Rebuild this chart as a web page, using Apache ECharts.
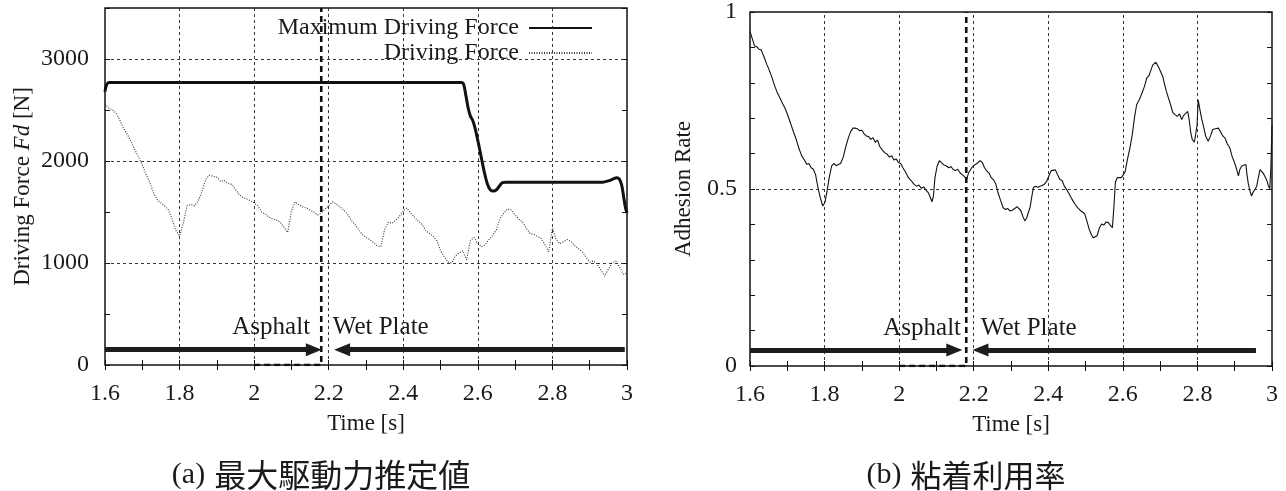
<!DOCTYPE html>
<html>
<head>
<meta charset="utf-8">
<script src="https://cdn.jsdelivr.net/npm/echarts@6/dist/echarts.min.js"></script>
<style>
  html, body { margin: 0; padding: 0; background: #fff; }
  #chart { width: 1286px; height: 491px; }
</style>
</head>
<body>
<div id="chart"></div>
<script>
// ---- tick labels ----
const timeTickLabels = ['1.6', '1.8', '2', '2.2', '2.4', '2.6', '2.8', '3'];
const forceTickLabels = ['0', '1000', '2000', '3000'];
const adhesionTickLabels = ['0', '0.5', '1'];

// ---- road surface change (Asphalt -> Wet Plate) ----
const surfaceChangeTime = 2.18;
const boundaryStartTime = 2.0;

// ---- (a) maximum driving force estimate [N] ----
const maxForceTime = [1.600, 1.603, 1.607, 1.612, 2.556, 2.562, 2.568, 2.574, 2.580, 2.586, 2.592, 2.600, 2.610, 2.618, 2.626, 2.634, 2.642, 2.650, 2.658, 2.666, 2.675, 2.935, 2.950, 2.962, 2.972, 2.980, 2.986, 2.991, 2.996, 3.000];
const maxForceValue = [2680, 2735, 2762, 2770, 2770, 2750, 2640, 2520, 2440, 2400, 2330, 2200, 2020, 1880, 1770, 1715, 1705, 1718, 1755, 1788, 1792, 1792, 1805, 1822, 1835, 1820, 1760, 1650, 1540, 1490];

// ---- (a) driving force [N] ----
const forceTime = [1.60, 1.61, 1.62, 1.63, 1.64, 1.65, 1.66, 1.67, 1.68, 1.69, 1.70, 1.71, 1.72, 1.73, 1.74, 1.75, 1.76, 1.77, 1.78, 1.79, 1.80, 1.81, 1.82, 1.83, 1.84, 1.85, 1.86, 1.87, 1.88, 1.89, 1.90, 1.91, 1.92, 1.93, 1.94, 1.95, 1.96, 1.97, 1.98, 1.99, 2.00, 2.01, 2.02, 2.03, 2.04, 2.05, 2.06, 2.07, 2.08, 2.09, 2.10, 2.11, 2.12, 2.13, 2.14, 2.15, 2.16, 2.17, 2.18, 2.19, 2.20, 2.21, 2.22, 2.23, 2.24, 2.25, 2.26, 2.27, 2.28, 2.29, 2.30, 2.31, 2.32, 2.33, 2.34, 2.35, 2.36, 2.37, 2.38, 2.39, 2.40, 2.41, 2.42, 2.43, 2.44, 2.45, 2.46, 2.47, 2.48, 2.49, 2.50, 2.51, 2.52, 2.53, 2.54, 2.55, 2.56, 2.57, 2.58, 2.59, 2.60, 2.61, 2.62, 2.63, 2.64, 2.65, 2.66, 2.67, 2.68, 2.69, 2.70, 2.71, 2.72, 2.73, 2.74, 2.75, 2.76, 2.77, 2.78, 2.79, 2.80, 2.81, 2.82, 2.83, 2.84, 2.85, 2.86, 2.87, 2.88, 2.89, 2.90, 2.91, 2.92, 2.93, 2.94, 2.95, 2.96, 2.97, 2.98, 2.99, 3.00];
const forceValue = [2560, 2520, 2500, 2470, 2400, 2320, 2260, 2190, 2110, 2040, 1960, 1870, 1790, 1690, 1620, 1590, 1560, 1520, 1430, 1320, 1265, 1390, 1560, 1575, 1560, 1610, 1700, 1820, 1860, 1850, 1840, 1800, 1810, 1780, 1770, 1720, 1670, 1640, 1630, 1610, 1590, 1560, 1500, 1480, 1450, 1430, 1420, 1400, 1350, 1300, 1510, 1600, 1570, 1550, 1540, 1520, 1500, 1470, 1490, 1530, 1560, 1600, 1580, 1550, 1520, 1480, 1420, 1380, 1330, 1280, 1250, 1230, 1200, 1170, 1160, 1330, 1400, 1390, 1420, 1460, 1510, 1540, 1490, 1450, 1410, 1380, 1320, 1290, 1260, 1220, 1120, 1060, 1010, 1000, 1070, 1100, 1120, 1030, 1220, 1250, 1190, 1160, 1180, 1230, 1270, 1330, 1440, 1490, 1530, 1520, 1470, 1430, 1400, 1340, 1290, 1280, 1260, 1240, 1180, 1110, 1340, 1230, 1190, 1210, 1230, 1210, 1170, 1140, 1110, 1060, 1010, 1020, 990, 930, 870, 940, 1000, 1020, 960, 890, 900];

// ---- (b) adhesion rate ----
const adhesionTime = [1.600, 1.606, 1.612, 1.618, 1.624, 1.630, 1.638, 1.645, 1.650, 1.658, 1.665, 1.672, 1.680, 1.688, 1.694, 1.700, 1.708, 1.716, 1.724, 1.731, 1.739, 1.746, 1.752, 1.758, 1.764, 1.770, 1.776, 1.782, 1.788, 1.795, 1.801, 1.806, 1.812, 1.819, 1.825, 1.831, 1.837, 1.843, 1.850, 1.857, 1.864, 1.870, 1.876, 1.882, 1.888, 1.894, 1.900, 1.906, 1.912, 1.918, 1.924, 1.930, 1.936, 1.942, 1.948, 1.955, 1.962, 1.968, 1.974, 1.980, 1.986, 1.992, 1.998, 2.004, 2.010, 2.017, 2.025, 2.032, 2.040, 2.047, 2.053, 2.060, 2.066, 2.072, 2.078, 2.083, 2.088, 2.092, 2.096, 2.102, 2.108, 2.114, 2.120, 2.127, 2.133, 2.139, 2.145, 2.151, 2.157, 2.163, 2.170, 2.176, 2.181, 2.186, 2.191, 2.196, 2.202, 2.209, 2.217, 2.223, 2.229, 2.235, 2.241, 2.247, 2.253, 2.259, 2.265, 2.272, 2.279, 2.285, 2.291, 2.297, 2.303, 2.309, 2.316, 2.320, 2.326, 2.332, 2.337, 2.342, 2.347, 2.351, 2.356, 2.360, 2.366, 2.372, 2.378, 2.384, 2.390, 2.396, 2.402, 2.408, 2.413, 2.419, 2.425, 2.431, 2.437, 2.443, 2.449, 2.455, 2.461, 2.467, 2.472, 2.478, 2.485, 2.492, 2.498, 2.504, 2.510, 2.516, 2.521, 2.525, 2.531, 2.537, 2.543, 2.549, 2.555, 2.561, 2.566, 2.572, 2.576, 2.580, 2.585, 2.590, 2.596, 2.601, 2.606, 2.612, 2.619, 2.625, 2.631, 2.637, 2.643, 2.648, 2.652, 2.658, 2.664, 2.670, 2.675, 2.680, 2.684, 2.688, 2.692, 2.697, 2.702, 2.707, 2.712, 2.717, 2.722, 2.728, 2.734, 2.740, 2.746, 2.752, 2.758, 2.763, 2.768, 2.774, 2.778, 2.782, 2.786, 2.792, 2.796, 2.799, 2.802, 2.806, 2.811, 2.816, 2.822, 2.829, 2.835, 2.841, 2.848, 2.856, 2.862, 2.868, 2.874, 2.880, 2.887, 2.893, 2.899, 2.904, 2.910, 2.914, 2.919, 2.924, 2.930, 2.933, 2.936, 2.940, 2.945, 2.950, 2.955, 2.959, 2.963, 2.968, 2.973, 2.977, 2.981, 2.986, 2.990, 2.994, 2.997, 3.000];
const adhesionValue = [0.945, 0.925, 0.905, 0.902, 0.895, 0.893, 0.872, 0.852, 0.840, 0.818, 0.795, 0.775, 0.758, 0.740, 0.728, 0.712, 0.688, 0.663, 0.640, 0.615, 0.593, 0.582, 0.570, 0.572, 0.560, 0.556, 0.540, 0.505, 0.478, 0.452, 0.462, 0.490, 0.530, 0.565, 0.572, 0.566, 0.569, 0.572, 0.590, 0.620, 0.645, 0.662, 0.672, 0.672, 0.670, 0.665, 0.666, 0.656, 0.650, 0.648, 0.640, 0.645, 0.632, 0.638, 0.620, 0.610, 0.602, 0.598, 0.590, 0.594, 0.582, 0.585, 0.575, 0.572, 0.560, 0.548, 0.532, 0.524, 0.513, 0.508, 0.511, 0.502, 0.506, 0.497, 0.490, 0.478, 0.464, 0.480, 0.532, 0.565, 0.580, 0.574, 0.568, 0.565, 0.560, 0.563, 0.555, 0.552, 0.556, 0.546, 0.540, 0.534, 0.527, 0.545, 0.550, 0.562, 0.568, 0.572, 0.580, 0.575, 0.560, 0.551, 0.545, 0.532, 0.526, 0.515, 0.490, 0.468, 0.447, 0.442, 0.445, 0.438, 0.440, 0.444, 0.450, 0.452, 0.440, 0.422, 0.410, 0.418, 0.435, 0.447, 0.480, 0.504, 0.508, 0.505, 0.508, 0.510, 0.514, 0.522, 0.538, 0.552, 0.557, 0.554, 0.540, 0.527, 0.524, 0.508, 0.499, 0.488, 0.476, 0.465, 0.457, 0.448, 0.440, 0.435, 0.429, 0.408, 0.385, 0.370, 0.362, 0.359, 0.368, 0.390, 0.401, 0.398, 0.407, 0.405, 0.398, 0.391, 0.450, 0.520, 0.532, 0.528, 0.532, 0.527, 0.548, 0.582, 0.616, 0.652, 0.700, 0.738, 0.750, 0.762, 0.760, 0.790, 0.813, 0.820, 0.835, 0.850, 0.845, 0.858, 0.852, 0.842, 0.830, 0.818, 0.795, 0.775, 0.758, 0.738, 0.716, 0.710, 0.705, 0.712, 0.696, 0.708, 0.712, 0.719, 0.695, 0.660, 0.640, 0.632, 0.630, 0.680, 0.752, 0.728, 0.700, 0.678, 0.650, 0.635, 0.650, 0.668, 0.670, 0.672, 0.662, 0.650, 0.644, 0.628, 0.616, 0.592, 0.576, 0.560, 0.537, 0.556, 0.565, 0.562, 0.569, 0.540, 0.518, 0.498, 0.480, 0.492, 0.500, 0.508, 0.530, 0.555, 0.552, 0.544, 0.541, 0.525, 0.510, 0.501, 0.560, 0.680];

// ---- surface annotations: arrow [from, to] times and heights ----
const forceAsphaltArrow = [1.600, 2.160];
const forceWetArrow = [2.994, 2.236];
const forceArrowLevel = 150;
const forceTextLevel = 365;
const adhesionAsphaltArrow = [1.600, 2.148];
const adhesionWetArrow = [2.957, 2.218];
const adhesionArrowLevel = 0.045;
const adhesionTextLevel = 0.105;
const asphaltTextTime = [2.150, 2.166];
const wetTextTime = [2.211, 2.219];

const SERIF = '"Liberation Serif", "DejaVu Serif", serif';
const CJK = '"Noto Sans CJK JP", "Noto Sans CJK SC", sans-serif';
const INK = '#111';
const TEXT = '#1a1a1a';

const zip = (xs, ys) => xs.map((x, i) => [x, ys[i]]);
const fmt1 = v => String(+v.toFixed(1));

function axisCommon(extra) {
  return Object.assign({
    type: 'value',
    axisLine: { show: false },
    axisTick: { show: true, inside: true, length: 5, lineStyle: { color: INK, width: 1 } },
    splitLine: { show: false },
    axisLabel: { show: false }
  }, extra);
}

function timeAxes(gridIndex) {
  return [
    axisCommon({
      gridIndex, position: 'bottom', min: 1.6, max: 3.0, interval: 0.1,
      name: 'Time [s]', nameLocation: 'middle', nameGap: 47,
      nameTextStyle: { fontFamily: SERIF, fontSize: 23, color: TEXT },
      axisLabel: {
        show: true, margin: 17, fontFamily: SERIF, fontSize: 24, color: TEXT,
        formatter: v => timeTickLabels.includes(fmt1(v)) ? fmt1(v) : ''
      }
    }),
    axisCommon({ gridIndex, position: 'top', min: 1.6, max: 3.0, interval: 0.1 })
  ];
}

// grid lines drawn as dashed reference lines
function gridLines(xi, yi, xs, ys) {
  return {
    type: 'line', xAxisIndex: xi, yAxisIndex: yi, data: [], silent: true, z: 1,
    markLine: {
      silent: true, symbol: ['none', 'none'], animation: false,
      label: { show: false },
      lineStyle: { color: '#222', width: 0.9, type: [3, 3] },
      data: xs.map(x => ({ xAxis: x })).concat(ys.map(y => ({ yAxis: y })))
    }
  };
}

function arrows(xi, yi, level, a, w) {
  return {
    type: 'line', xAxisIndex: xi, yAxisIndex: yi, data: [], silent: true, z: 4,
    markLine: {
      silent: true, animation: false, symbol: ['none', 'triangle'], symbolSize: [13, 16],
      label: { show: false },
      lineStyle: { color: '#1c1c1c', width: 5, type: 'solid' },
      data: [
        [{ coord: [a[0], level] }, { coord: [a[1], level] }],
        [{ coord: [w[0], level] }, { coord: [w[1], level] }]
      ]
    }
  };
}

function surfaceText(xi, yi, t, level, text, side) {
  return {
    type: 'scatter', xAxisIndex: xi, yAxisIndex: yi, symbolSize: 0, silent: true, z: 5,
    data: [[t, level]],
    itemStyle: { opacity: 1 },
    label: { show: true, position: side, distance: 0, formatter: text,
      fontFamily: SERIF, fontSize: 25, color: TEXT, opacity: 1 }
  };
}

function boundary(xi, yi, top) {
  return {
    type: 'line', xAxisIndex: xi, yAxisIndex: yi, z: 3, symbol: 'none', silent: true,
    data: [[boundaryStartTime, 0], [surfaceChangeTime, 0], [surfaceChangeTime, top]],
    lineStyle: { color: INK, width: 2.6, type: [6, 4] }
  };
}

const timeGrid = timeTickLabels.slice(1, -1).map(Number);

const option = {
  backgroundColor: '#fff',
  animation: false,
  grid: [
    { left: 105, top: 8, width: 522, height: 357, show: true, borderColor: INK, borderWidth: 1.5, backgroundColor: 'transparent' },
    { left: 750, top: 10, width: 522, height: 356, show: true, borderColor: INK, borderWidth: 1.5, backgroundColor: 'transparent' }
  ],
  legend: {
    orient: 'vertical', align: 'right', right: 688, top: 11,
    itemWidth: 63, itemHeight: 14, itemGap: 1,
    itemStyle: { opacity: 0 },
    textStyle: { fontFamily: SERIF, fontSize: 24, color: TEXT, lineHeight: 24, padding: [0, 5, 0, 0] },
    data: ['Maximum Driving Force', 'Driving Force']
  },
  xAxis: timeAxes(0).concat(timeAxes(1)),
  yAxis: [
    axisCommon({
      gridIndex: 0, position: 'left', min: 0, max: 3500, interval: 500,
      name: '{a|Driving Force }{b|Fd}{a| [N]}', nameLocation: 'middle', nameGap: 71,
      nameTextStyle: { rich: {
        a: { fontFamily: SERIF, fontSize: 23, color: TEXT },
        b: { fontFamily: SERIF, fontSize: 23, color: TEXT, fontStyle: 'italic' }
      } },
      axisLabel: {
        show: true, margin: 16, fontFamily: SERIF, fontSize: 24, color: TEXT,
        formatter: v => forceTickLabels.includes(String(Math.round(v))) ? String(Math.round(v)) : ''
      }
    }),
    axisCommon({ gridIndex: 0, position: 'right', min: 0, max: 3500, interval: 500 }),
    axisCommon({
      gridIndex: 1, position: 'left', min: 0, max: 1, interval: 0.1,
      name: 'Adhesion Rate', nameLocation: 'middle', nameGap: 55,
      nameTextStyle: { fontFamily: SERIF, fontSize: 23, color: TEXT },
      axisLabel: {
        show: true, margin: 13, fontFamily: SERIF, fontSize: 24, color: TEXT,
        formatter: v => adhesionTickLabels.includes(fmt1(v)) ? fmt1(v) : ''
      }
    }),
    axisCommon({ gridIndex: 1, position: 'right', min: 0, max: 1, interval: 0.1 })
  ],
  series: [
    gridLines(0, 0, timeGrid, forceTickLabels.slice(1).map(Number)),
    gridLines(2, 2, timeGrid, [0.5]),
    {
      name: 'Driving Force', type: 'line', xAxisIndex: 0, yAxisIndex: 0, z: 2,
      symbol: 'none', data: zip(forceTime, forceValue),
      lineStyle: { color: '#333', width: 1.1, type: [1, 1.5] },
      itemStyle: { color: '#333' }
    },
    {
      name: 'Maximum Driving Force', type: 'line', xAxisIndex: 0, yAxisIndex: 0, z: 3,
      symbol: 'none', smooth: 0.3, data: zip(maxForceTime, maxForceValue),
      lineStyle: { color: INK, width: 3 },
      itemStyle: { color: INK }
    },
    boundary(0, 0, 3500),
    arrows(0, 0, forceArrowLevel, forceAsphaltArrow, forceWetArrow),
    surfaceText(0, 0, asphaltTextTime[0], forceTextLevel, 'Asphalt', 'left'),
    surfaceText(0, 0, wetTextTime[0], forceTextLevel, 'Wet Plate', 'right'),
    {
      name: 'Adhesion Rate', type: 'line', xAxisIndex: 2, yAxisIndex: 2, z: 2,
      symbol: 'none', data: zip(adhesionTime, adhesionValue),
      lineStyle: { color: INK, width: 1.1 }
    },
    boundary(2, 2, 1),
    arrows(2, 2, adhesionArrowLevel, adhesionAsphaltArrow, adhesionWetArrow),
    surfaceText(2, 2, asphaltTextTime[1], adhesionTextLevel, 'Asphalt', 'left'),
    surfaceText(2, 2, wetTextTime[1], adhesionTextLevel, 'Wet Plate', 'right')
  ],
  graphic: [
    {
      type: 'text', x: 321, y: 475, silent: true,
      style: {
        text: '{p|(a)}{c|最大駆動力推定値}', align: 'center', verticalAlign: 'middle',
        rich: {
          p: { fontFamily: SERIF, fontSize: 30, fill: TEXT },
          c: { fontFamily: CJK, fontSize: 32, fill: TEXT, padding: [0, 0, 0, 9] }
        }
      }
    },
    {
      type: 'text', x: 966, y: 475, silent: true,
      style: {
        text: '{p|(b)}{c|粘着利用率}', align: 'center', verticalAlign: 'middle',
        rich: {
          p: { fontFamily: SERIF, fontSize: 30, fill: TEXT },
          c: { fontFamily: CJK, fontSize: 31, fill: TEXT, padding: [0, 0, 0, 9] }
        }
      }
    }
  ]
};

const chart = echarts.init(document.getElementById('chart'), null, { renderer: 'canvas' });
chart.setOption(option);
</script>
</body>
</html>
